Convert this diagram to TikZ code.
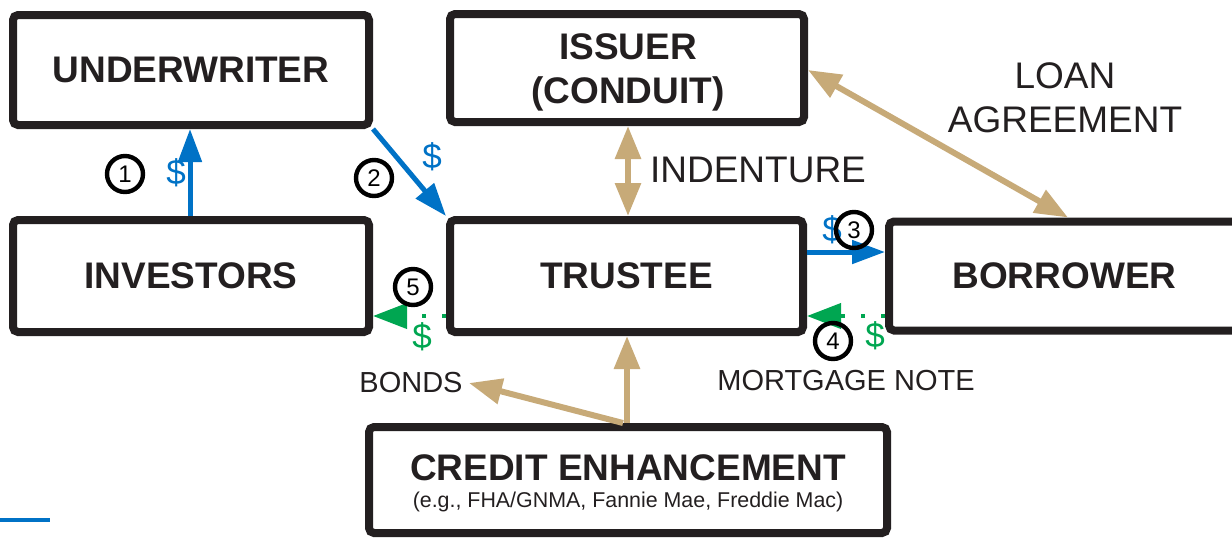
\documentclass[tikz,border=0pt]{standalone}
\usepackage{fontspec}
\setmainfont{Liberation Sans}
\usetikzlibrary{arrows.meta}
\definecolor{ink}{RGB}{35,31,32}
\definecolor{flowblue}{RGB}{0,114,198}
\definecolor{flowgreen}{RGB}{0,166,81}
\definecolor{sand}{RGB}{199,170,120}
\begin{document}
\begin{tikzpicture}[x=0.5pt,y=-0.5pt,
  party/.style={draw=ink, line width=4pt, rounded corners=2.5pt, text=ink,
    font=\bfseries\fontsize{18.5}{22}\selectfont, align=center, inner sep=0pt},
  boldtext/.style={text=ink, inner sep=0pt, align=center,
    font=\bfseries\fontsize{18.5}{22}\selectfont},
  cashflow/.style={draw=flowblue, line width=2.5pt,
    -{Triangle[length=16.5pt,width=11.5pt]}},
  docflow/.style={draw=flowgreen, line width=2pt, dash pattern=on 2pt off 8pt,
    -{Triangle[length=17pt,width=12.5pt]}},
  link/.style={draw=sand, line width=3pt,
    -{Triangle[length=16.5pt,width=12.5pt]}},
  twoway/.style={draw=sand, line width=3pt,
    {Triangle[length=16.5pt,width=12.5pt]}-{Triangle[length=16.5pt,width=12.5pt]}},
  stepno/.style={circle, draw=black, line width=2.2pt, minimum size=18pt,
    inner sep=0pt, font=\fontsize{12}{12}\selectfont},
  dollar/.style={inner sep=0pt, font=\fontsize{17.5}{17.5}\selectfont},
  caption/.style={text=ink, inner sep=0pt, align=center,
    font=\fontsize{18.5}{22}\selectfont},
  smallcap/.style={text=ink, inner sep=3pt, font=\fontsize{14.5}{16}\selectfont},
]
\useasboundingbox (0,0) rectangle (1232,537);
\clip (0,0) rectangle (1232,537);

% parties
\node[party, minimum width=178pt, minimum height=55pt] (underwriter) at (191,70) {UNDERWRITER};
\node[party, minimum width=177pt, minimum height=54pt] (issuer) at (627,68) {};
\node[party, minimum width=178pt, minimum height=56pt] (investors) at (191,276) {INVESTORS};
\node[party, minimum width=176.5pt, minimum height=56pt] (trustee) at (626.5,276) {TRUSTEE};
\node[party, minimum width=175.5pt, minimum height=54.5pt] (borrower) at (1064.5,276) {BORROWER};
\node[party, minimum width=259pt, minimum height=53pt] (credit) at (628,480) {};

% names inside the two-line boxes
\node[boldtext] (issuername) at (628,72.5) {ISSUER\\(CONDUIT)};
\node[boldtext] (creditname) at (628,468) {CREDIT ENHANCEMENT};
\node[text=ink, inner sep=0pt, font=\fontsize{10.7}{12}\selectfont] (creditnote) at (628,502)
  {(e.g., FHA/GNMA, Fannie Mae, Freddie Mac)};

% captions
\node[caption] (indenture) at (758,170) {INDENTURE};
\node[caption] (loan) at (1065,98) {LOAN\\AGREEMENT};
\node[smallcap] (bonds) at (411,383) {BONDS};
\node[smallcap] (note) at (846,381) {MORTGAGE NOTE};

% money flows
\draw[cashflow] (investors.north -| 190,0) -- (underwriter.south -| 190,0);
\draw[cashflow] (underwriter.south east) -- (trustee.north west);
\draw[cashflow] (trustee.east |- 0,252) -- (borrower.west |- 0,252);
\draw[docflow] (borrower.west |- 0,316) -- (trustee.east |- 0,316);
\draw[docflow] (trustee.west |- 0,316) -- (investors.east |- 0,316);

% agreements and support
\draw[twoway] (issuer.south -| 628,0) -- (trustee.north -| 628,0);
\draw[twoway] (issuer.east |- 0,70) -- (borrower.north -| 1068,0);
\draw[link] (credit.north -| 627,0) -- (trustee.south -| 627,0);
\draw[link] (credit.north -| 623,0) -- (bonds.east);

% dollar signs
\node[dollar, text=flowblue] (d1) at (176,173) {\$};
\node[dollar, text=flowblue] (d2) at (432,157) {\$};
\node[dollar, text=flowblue] (d3) at (832,230) {\$};
\node[dollar, text=flowgreen] (d5) at (422,337) {\$};
\node[dollar, text=flowgreen] (d4) at (875,336) {\$};

% step numbers
\node[stepno] (s1) at (125,174) {1};
\node[stepno] (s2) at (374,178) {2};
\node[stepno] (s3) at (854,230) {3};
\node[stepno] (s4) at (833,341) {4};
\node[stepno] (s5) at (413,287) {5};

% rule at the lower left
\draw[flowblue, line width=2pt] (0,520) -- (50,520);
\end{tikzpicture}
\end{document}
